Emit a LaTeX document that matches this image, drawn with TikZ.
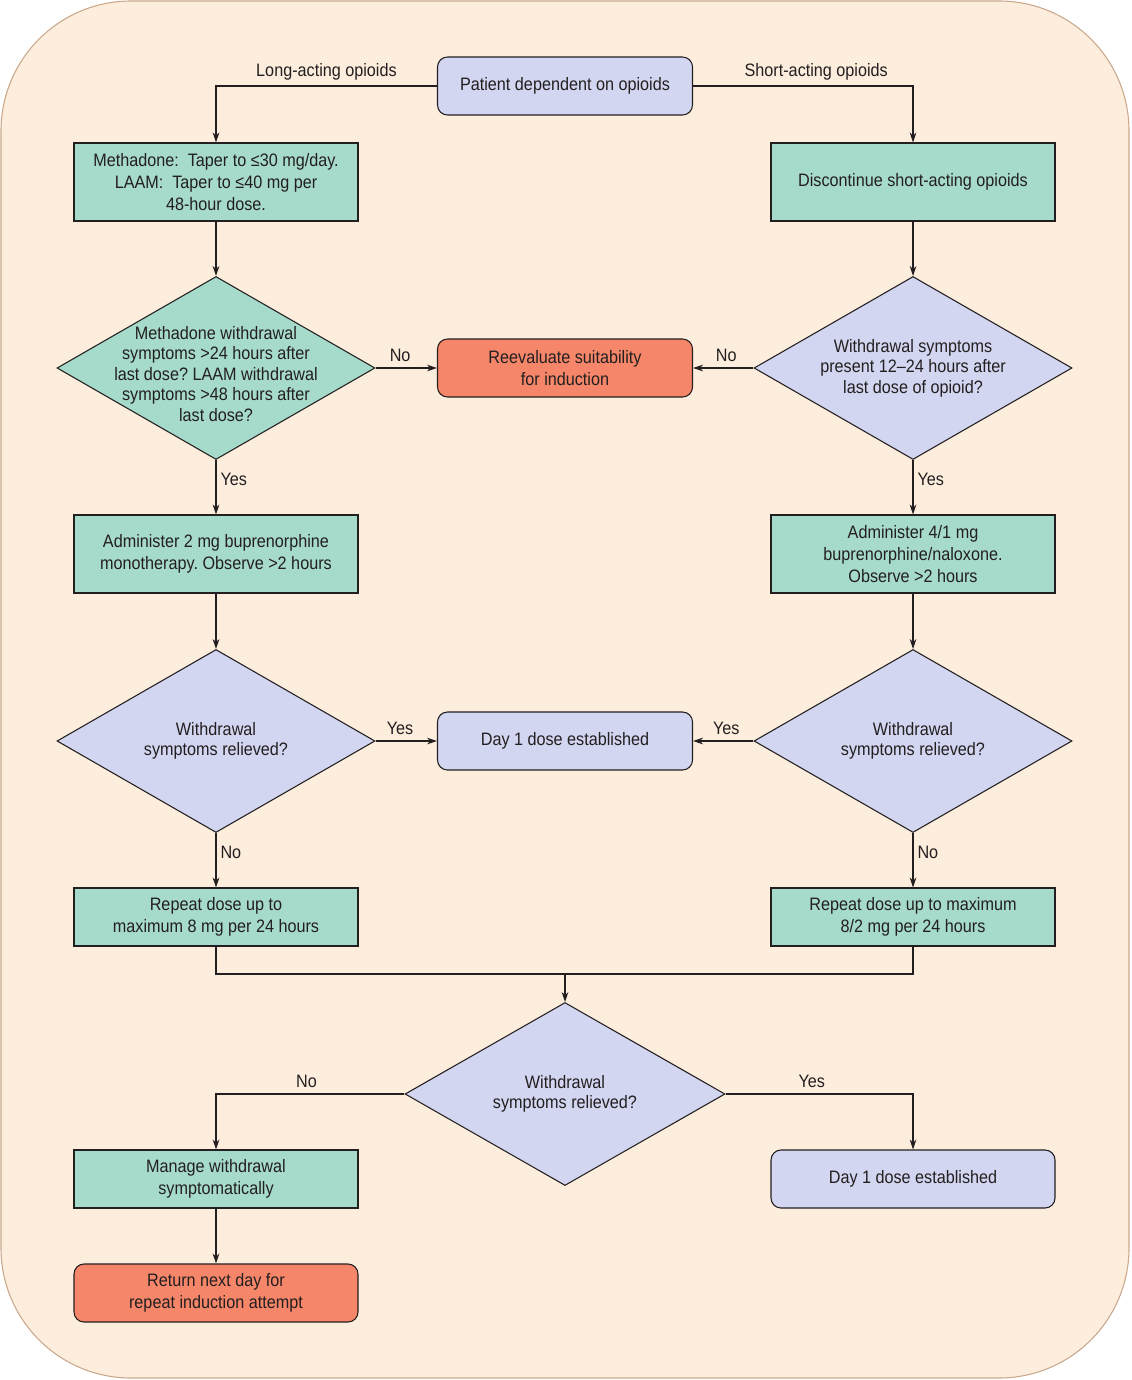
\documentclass[tikz,border=0pt]{standalone}
\usepackage{fontspec}
\setmainfont[FakeStretch=0.9]{Liberation Sans}
\usetikzlibrary{shapes.geometric,arrows.meta}
\definecolor{bgfill}{HTML}{FDEDDD}
\definecolor{bgline}{HTML}{C9A88C}
\definecolor{teal}{HTML}{A6DBCC}
\definecolor{lav}{HTML}{D2D6F0}
\definecolor{salm}{HTML}{F58669}
\definecolor{ink}{HTML}{231F20}
\frenchspacing
\begin{document}
\begin{tikzpicture}[x=0.75pt,y=-0.75pt,
  every node/.style={font=\fontsize{13.5}{16.5}\selectfont, text=ink, align=center},
  box/.style={draw=ink, line width=0.8pt, fill=teal, minimum width=213pt, minimum height=58.5pt, inner sep=2pt},
  sbox/.style={box, minimum height=43.5pt},
  rbox/.style={draw=ink, line width=0.8pt, rounded corners=7.5pt, minimum width=191.25pt, minimum height=43.5pt, inner sep=2pt},
  rlbox/.style={rbox, minimum width=213pt},
  dia/.style={draw=ink, line width=0.8pt, diamond, inner sep=0pt, minimum width=238.5pt, minimum height=137.25pt},
  dtext/.style={font=\fontsize{13.5}{15.4}\selectfont},
  conn/.style={draw=ink, line width=0.8pt},
  arr/.style={conn, -{Stealth[length=7.5pt,width=5pt]}},
  lab/.style={font=\fontsize{13.5}{16}\selectfont, inner sep=2pt},
  hlab/.style={lab, above, yshift=2pt},
  vlab/.style={lab, right, pos=0.35, xshift=1pt}
]
\useasboundingbox (0,0) rectangle (1131,1380);
\draw[fill=bgfill, draw=bgline, line width=0.8pt, rounded corners=97.5pt] (1,1) rectangle (1129,1378);

% nodes
\node[rbox, fill=lav] (start) at (565,86) {Patient dependent on opioids};
\node[box] (l1) at (216,182) {Methadone:\ \ Taper to ≤30 mg/day.\\LAAM:\ \ Taper to ≤40 mg per\\48-hour dose.};
\node[box] (r1) at (913,182) {Discontinue short-acting opioids};
\node[dia, fill=teal] (dl1) at (216,368) {};
\node[dtext] (dl1t) at (216,374) {Methadone withdrawal\\symptoms >24 hours after\\last dose? LAAM withdrawal\\symptoms >48 hours after\\last dose?};
\node[dia, fill=lav] (dr1) at (913,368) {};
\node[dtext] (dr1t) at (913,368) {Withdrawal symptoms\\present 12–24 hours after\\last dose of opioid?};
\node[rbox, fill=salm] (reeval) at (565,368) {Reevaluate suitability\\for induction};
\node[box] (l2) at (216,554) {Administer 2 mg buprenorphine\\monotherapy. Observe >2 hours};
\node[box] (r2) at (913,554) {Administer 4/1 mg\\buprenorphine/naloxone.\\Observe >2 hours};
\node[dia, fill=lav] (dl2) at (216,741) {};
\node[dtext] (dl2t) at (216,741) {Withdrawal\\symptoms relieved?};
\node[dia, fill=lav] (dr2) at (913,741) {};
\node[dtext] (dr2t) at (913,741) {Withdrawal\\symptoms relieved?};
\node[rbox, fill=lav] (day1m) at (565,741) {Day 1 dose established};
\node[sbox] (l3) at (216,917) {Repeat dose up to\\maximum 8 mg per 24 hours};
\node[sbox] (r3) at (913,917) {Repeat dose up to maximum\\8/2 mg per 24 hours};
\coordinate (m) at (565,974);
\node[dia, fill=lav, minimum width=240pt] (d3) at (565,1094) {};
\node[dtext] (d3t) at (565,1094) {Withdrawal\\symptoms relieved?};
\node[sbox] (manage) at (216,1179) {Manage withdrawal\\symptomatically};
\node[rlbox, fill=lav] (day1r) at (913,1179) {Day 1 dose established};
\node[rlbox, fill=salm] (ret) at (216,1293) {Return next day for\\repeat induction attempt};

% connectors
\draw[arr] (start.west) -| node[hlab, pos=0.25] {Long-acting opioids} (l1.north);
\draw[arr] (start.east) -| node[hlab, pos=0.28] {Short-acting opioids} (r1.north);
\draw[arr] (l1.south) -- (dl1.north);
\draw[arr] (r1.south) -- (dr1.north);
\draw[arr] (dl1.east) -- node[hlab, pos=0.4] {No} (reeval.west);
\draw[arr] (dr1.west) -- node[hlab, pos=0.45] {No} (reeval.east);
\draw[arr] (dl1.south) -- node[vlab] {Yes} (l2.north);
\draw[arr] (dr1.south) -- node[vlab] {Yes} (r2.north);
\draw[arr] (l2.south) -- (dl2.north);
\draw[arr] (r2.south) -- (dr2.north);
\draw[arr] (dl2.east) -- node[hlab, pos=0.4] {Yes} (day1m.west);
\draw[arr] (dr2.west) -- node[hlab, pos=0.45] {Yes} (day1m.east);
\draw[arr] (dl2.south) -- node[vlab] {No} (l3.north);
\draw[arr] (dr2.south) -- node[vlab] {No} (r3.north);
\draw[conn] (l3.south) |- (m);
\draw[conn] (r3.south) |- (m);
\draw[arr] (m) -- (d3.north);
\draw[arr] (d3.west) -| node[hlab, pos=0.26] {No} (manage.north);
\draw[arr] (d3.east) -| node[hlab, pos=0.23] {Yes} (day1r.north);
\draw[arr] (manage.south) -- (ret.north);
\end{tikzpicture}
\end{document}
